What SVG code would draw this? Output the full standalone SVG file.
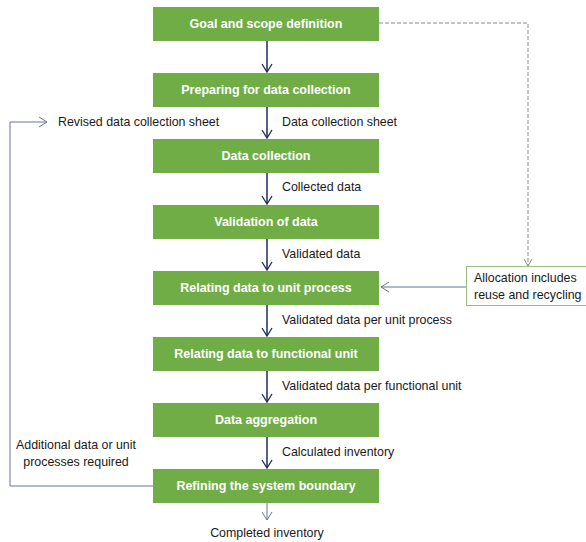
<svg xmlns="http://www.w3.org/2000/svg" width="586" height="542" viewBox="0 0 586 542">
<defs>
<style>
.box{fill:#70ad47;}
.bt{font-family:"Liberation Sans",Arial,sans-serif;font-size:12.5px;font-weight:bold;fill:#ffffff;text-anchor:middle;}
.lb{font-family:"Liberation Sans",Arial,sans-serif;font-size:12.4px;fill:#1a1a1a;}
.main{stroke:#1f2a5c;stroke-width:1.5;fill:none;}
.thin{stroke:#6a7590;stroke-width:1;fill:none;}
.dash{stroke:#8a8a8a;stroke-width:1;fill:none;stroke-dasharray:4,2;}
</style>
<marker id="ah" markerWidth="12" markerHeight="12" refX="10" refY="6" orient="auto" markerUnits="userSpaceOnUse">
<path d="M2,1 L10,6 L2,11" fill="none" stroke="#1f2a5c" stroke-width="1.3"/>
</marker>
<marker id="ag" markerWidth="12" markerHeight="12" refX="10" refY="6" orient="auto" markerUnits="userSpaceOnUse">
<path d="M2,1 L10,6 L2,11" fill="none" stroke="#6a7590" stroke-width="1"/>
</marker>
<marker id="ad" markerWidth="12" markerHeight="12" refX="10" refY="6" orient="auto" markerUnits="userSpaceOnUse">
<path d="M3,2 L10,6 L3,10" fill="none" stroke="#8a8a8a" stroke-width="1"/>
</marker>
</defs>
<rect width="586" height="542" fill="#ffffff"/>
<g id="connectors">
<line class="main" x1="267" y1="41" x2="267" y2="72" marker-end="url(#ah)"/>
<line class="main" x1="267" y1="107" x2="267" y2="138" marker-end="url(#ah)"/>
<line class="main" x1="267" y1="173" x2="267" y2="204" marker-end="url(#ah)"/>
<line class="main" x1="267" y1="239" x2="267" y2="270" marker-end="url(#ah)"/>
<line class="main" x1="267" y1="305" x2="267" y2="336" marker-end="url(#ah)"/>
<line class="main" x1="267" y1="371" x2="267" y2="402" marker-end="url(#ah)"/>
<line class="main" x1="267" y1="437" x2="267" y2="468" marker-end="url(#ah)"/>
<line class="thin" x1="267" y1="503" x2="267" y2="520" marker-end="url(#ag)"/>
<polyline class="thin" points="153,486 10,486 10,122 47,122" marker-end="url(#ag)"/>
<polyline class="dash" points="379,23 528,23 528,266" marker-end="url(#ad)"/>
<line class="thin" x1="466" y1="287" x2="381" y2="287" marker-end="url(#ag)"/>
<text class="lb" x="282" y="126">Data collection sheet</text>
<text class="lb" x="282" y="191">Collected data</text>
<text class="lb" x="282" y="258">Validated data</text>
<text class="lb" x="282" y="324">Validated data per unit process</text>
<text class="lb" x="282" y="390">Validated data per functional unit</text>
<text class="lb" x="282" y="456">Calculated inventory</text>
<text class="lb" x="58" y="126">Revised data collection sheet</text>
<text class="lb" x="76" y="449" text-anchor="middle">Additional data or unit</text>
<text class="lb" x="76" y="466" text-anchor="middle">processes required</text>
<text class="lb" x="267" y="537" text-anchor="middle">Completed inventory</text>
</g>
<g id="goal"><rect class="box" x="153" y="7" width="226" height="34"/><text class="bt" x="266" y="28">Goal and scope definition</text></g>
<g id="preparing"><rect class="box" x="153" y="73" width="226" height="34"/><text class="bt" x="266" y="94">Preparing for data collection</text></g>
<g id="collection"><rect class="box" x="153" y="139" width="226" height="34"/><text class="bt" x="266" y="160">Data collection</text></g>
<g id="validation"><rect class="box" x="153" y="205" width="226" height="34"/><text class="bt" x="266" y="226">Validation of data</text></g>
<g id="unitprocess"><rect class="box" x="153" y="271" width="226" height="34"/><text class="bt" x="266" y="292">Relating data to unit process</text></g>
<g id="functional"><rect class="box" x="153" y="337" width="226" height="34"/><text class="bt" x="266" y="358">Relating data to functional unit</text></g>
<g id="aggregation"><rect class="box" x="153" y="403" width="226" height="34"/><text class="bt" x="266" y="424">Data aggregation</text></g>
<g id="refining"><rect class="box" x="153" y="469" width="226" height="34"/><text class="bt" x="266" y="490">Refining the system boundary</text></g>
<g id="allocation"><rect x="466.5" y="266.5" width="125" height="39" fill="#ffffff" stroke="#9bbb84" stroke-width="1"/>
<text class="lb" x="474" y="282">Allocation includes</text>
<text class="lb" x="474" y="299">reuse and recycling</text></g>
</svg>
